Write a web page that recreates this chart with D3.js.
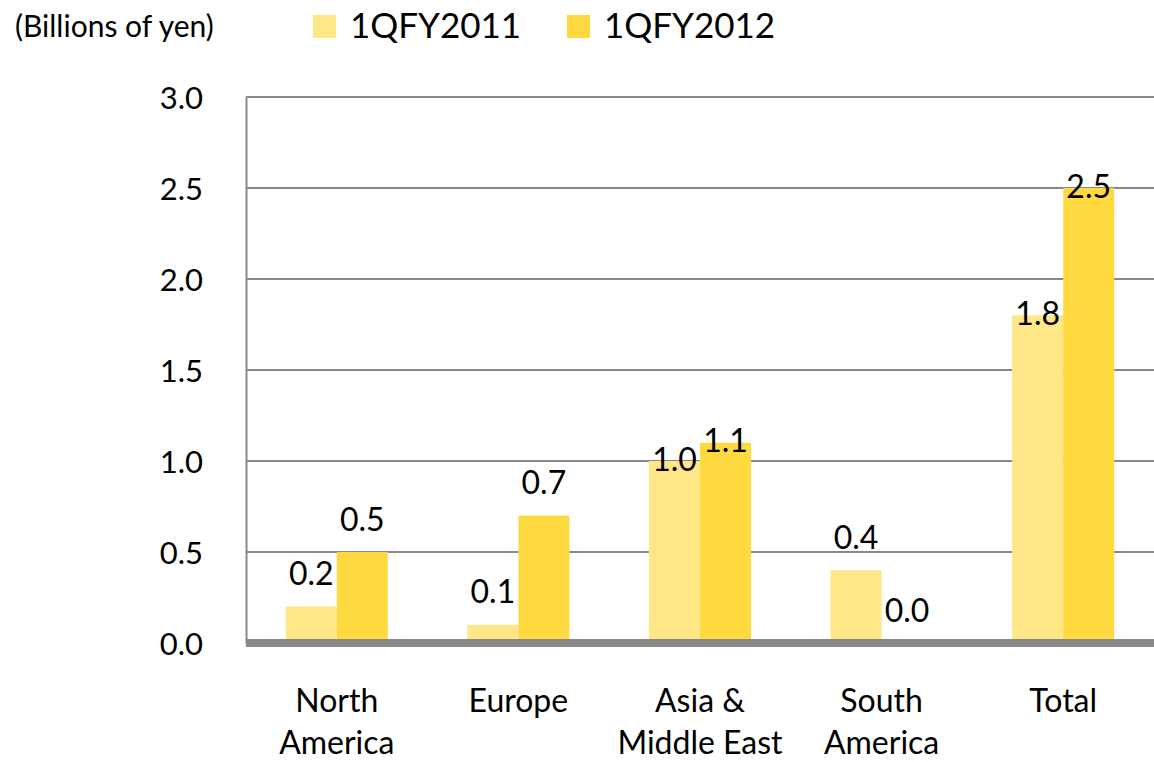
<!DOCTYPE html>
<html>
<head>
<meta charset="utf-8">
<script src="https://cdn.jsdelivr.net/npm/d3@7"></script>
<style>
  html, body { margin: 0; padding: 0; background: #fff; }
  svg text { font-family: Lato, "Open Sans", sans-serif; fill: #000; }
</style>
</head>
<body>
<svg id="chart" width="1154" height="762"></svg>
<script>
// Regional figures, billions of yen
const categories = [["North", "America"], ["Europe"], ["Asia &", "Middle East"], ["South", "America"], ["Total"]];
const seriesNames = ["1QFY2011", "1QFY2012"];
const fy2011 = [0.2, 0.1, 1.0, 0.4, 1.8];
const fy2012 = [0.5, 0.7, 1.1, 0.0, 2.5];
const yTicks = [0.0, 0.5, 1.0, 1.5, 2.0, 2.5, 3.0];
// labels that sit on the bar end rather than above it
const labelOnEnd = [[false, false], [false, false], [true, true], [false, false], [true, true]];

const colors = ["#FFE686", "#FED940"];

const svg = d3.select("#chart");
const plotLeft = 246, plotRight = 1154, plotTop = 97, plotBottom = 643;

const keys = categories.map(c => c.join(" "));
const x0 = d3.scaleBand().domain(keys).range([plotLeft, plotRight]).padding(0);
const x1 = d3.scaleBand().domain(seriesNames).range([0, x0.bandwidth()])
  .paddingInner(0).paddingOuter(0.78);
const y = d3.scaleLinear().domain([0, 3]).range([plotBottom, plotTop]);

// gridlines
svg.append("g")
  .selectAll("line")
  .data(yTicks.filter(t => t > 0))
  .join("line")
  .attr("x1", plotLeft).attr("x2", plotRight)
  .attr("y1", d => y(d)).attr("y2", d => y(d))
  .attr("stroke", "#888").attr("stroke-width", 2);

// y axis
const yAxis = d3.axisLeft(y).tickValues(yTicks).tickFormat(d3.format(".1f")).tickSize(0).tickPadding(43);
const gy = svg.append("g").attr("transform", `translate(${plotLeft},0)`).call(yAxis);
gy.select(".domain").attr("stroke", "#888").attr("stroke-width", 2);
gy.selectAll("text").attr("font-size", 31).attr("font-family", "Lato").attr("dy", "0.36em");

// bars
const rows = keys.map((k, i) => ({ key: k, i, vals: [fy2011[i], fy2012[i]] }));
const groups = svg.append("g").selectAll("g")
  .data(rows).join("g")
  .attr("transform", d => `translate(${x0(d.key)},0)`);

groups.selectAll("rect")
  .data(d => d.vals.map((v, s) => ({ v, s })))
  .join("rect")
  .attr("x", d => x1(seriesNames[d.s]))
  .attr("width", x1.bandwidth())
  .attr("y", d => y(d.v))
  .attr("height", d => y(0) - y(d.v))
  .attr("fill", d => colors[d.s]);

// value labels
groups.selectAll("text.val")
  .data(d => d.vals.map((v, s) => ({ v, s, onEnd: labelOnEnd[d.i][s] })))
  .join("text")
  .attr("class", "val")
  .attr("x", d => x1(seriesNames[d.s]) + x1.bandwidth() / 2)
  .attr("y", d => d.onEnd ? y(d.v) - 2 : y(d.v) - 33)
  .attr("dy", "0.36em")
  .attr("text-anchor", "middle")
  .attr("font-size", 32)
  .text(d => d3.format(".1f")(d.v));

// zero baseline
svg.append("line")
  .attr("x1", plotLeft).attr("x2", plotRight)
  .attr("y1", y(0)).attr("y2", y(0))
  .attr("stroke", "#888").attr("stroke-width", 8);

// category labels
const cat = svg.append("g").selectAll("text")
  .data(categories.map((lines, i) => ({ lines, key: keys[i] })))
  .join("text")
  .attr("text-anchor", "middle")
  .attr("font-size", 32)
  .attr("x", d => x0(d.key) + x0.bandwidth() / 2)
  .attr("y", 712);
cat.selectAll("tspan")
  .data(d => d.lines.map(l => ({ l, x: x0(d.key) + x0.bandwidth() / 2 })))
  .join("tspan")
  .attr("x", d => d.x)
  .attr("dy", (d, i) => i === 0 ? 0 : 42)
  .text(d => d.l);

// unit note
svg.append("text").attr("x", 15).attr("y", 37).attr("font-size", 30).text("(Billions of yen)");

// legend
const legendX = [313, 567];
const leg = svg.append("g").selectAll("g")
  .data(seriesNames).join("g")
  .attr("transform", (d, i) => `translate(${legendX[i]},0)`);
leg.append("rect").attr("x", 0).attr("y", 15).attr("width", 23).attr("height", 23)
  .attr("fill", (d, i) => colors[i]);
leg.append("text").attr("x", 37).attr("y", 38).attr("font-size", 35).text(d => d);
</script>
</body>
</html>
